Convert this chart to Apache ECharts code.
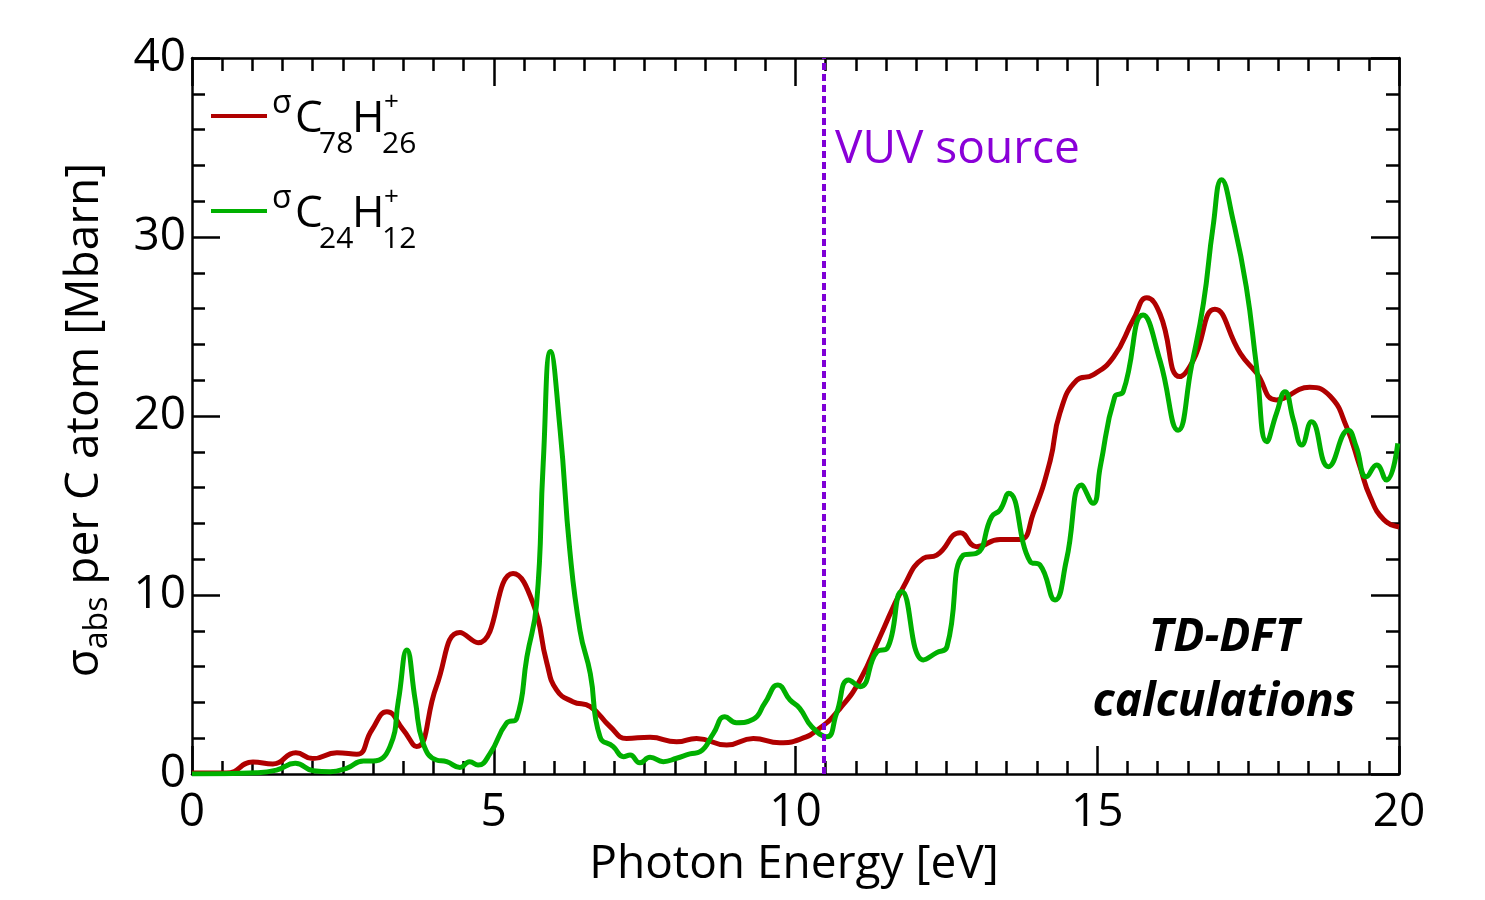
<!DOCTYPE html>
<html><head><meta charset="utf-8">
<script src="https://cdn.jsdelivr.net/npm/echarts@6/dist/echarts.min.js"></script>
<style>html,body{margin:0;padding:0;background:#fff}#c{width:1485px;height:900px}</style>
</head><body><div id="c"></div>
<script>
// C78H26+ absorption cross-section [Photon energy (eV), Mbarn]
const redData = [[0,0.05],[0.57,0.05],[1.01,0.67],[1.34,0.56],[1.72,1.19],[2.0,0.86],[2.4,1.19],[2.73,1.1],[2.98,2.46],[3.23,3.48],[3.5,2.46],[3.72,1.53],[4.05,4.9],[4.44,7.9],[4.74,7.33],[5.32,11.2],[5.65,9.55],[5.88,6.2],[6.04,4.7],[6.31,4.04],[6.6,3.76],[6.93,2.64],[7.2,1.99],[7.59,2.05],[8.03,1.8],[8.36,1.99],[8.86,1.62],[9.3,1.99],[9.74,1.75],[10.07,1.94],[10.4,2.55],[10.74,3.67],[11.07,5.25],[11.4,7.67],[11.79,10.46],[12.12,12.05],[12.34,12.23],[12.73,13.48],[13.0,12.7],[13.39,13.1],[13.72,13.1],[13.94,14.56],[14.22,17.5],[14.38,20.15],[14.66,22.0],[14.93,22.3],[15.27,23.3],[15.6,25.4],[15.82,26.6],[16.04,25.7],[16.37,22.2],[16.59,23.1],[16.95,25.96],[17.37,23.5],[17.64,22.4],[17.97,20.9],[18.52,21.6],[18.86,21.1],[19.13,19.4],[19.35,17.2],[19.52,15.5],[19.75,14.2],[20,13.8]];
// C24H12+ absorption cross-section
const greenData = [[0,0],[1.07,0.07],[1.4,0.22],[1.71,0.6],[2.01,0.18],[2.29,0.13],[2.56,0.32],[2.84,0.73],[3.0,0.73],[3.28,1.53],[3.42,4.1],[3.56,6.93],[3.7,4.1],[3.83,1.71],[4.05,0.78],[4.22,0.69],[4.44,0.37],[4.6,0.69],[4.74,0.5],[4.94,1.15],[5.21,2.83],[5.38,3.1],[5.55,6.55],[5.71,9.5],[5.82,17.4],[5.94,23.6],[6.1,19.2],[6.26,12.5],[6.43,8.0],[6.6,5.6],[6.76,2.08],[6.98,1.53],[7.15,0.97],[7.26,1.06],[7.42,0.63],[7.59,0.93],[7.81,0.69],[8.03,0.88],[8.25,1.12],[8.42,1.25],[8.64,2.27],[8.83,3.2],[9.02,2.87],[9.3,3.06],[9.49,3.95],[9.71,4.97],[9.91,4.13],[10.07,3.67],[10.27,2.64],[10.52,2.08],[10.68,3.39],[10.88,5.25],[11.07,4.88],[11.35,6.83],[11.52,7.02],[11.76,10.2],[12.12,6.37],[12.34,6.78],[12.51,7.11],[12.78,12.23],[13.0,12.33],[13.25,14.37],[13.39,14.75],[13.53,15.68],[13.89,11.86],[14.05,11.68],[14.3,9.72],[14.49,11.96],[14.74,16.15],[14.93,15.12],[15.05,17.17],[15.29,21.08],[15.43,21.36],[15.76,25.64],[16.04,23.1],[16.34,19.2],[16.56,22.75],[16.76,26.3],[16.92,30.6],[17.06,33.2],[17.25,30.95],[17.47,27.2],[17.64,22.75],[17.81,18.56],[17.97,20.15],[18.11,21.36],[18.25,19.78],[18.39,18.38],[18.55,19.68],[18.83,17.17],[19.16,19.2],[19.29,18.3],[19.46,16.6],[19.63,17.26],[19.79,16.42],[19.98,18.47]];
const vuvEnergy = 10.46;
const xTicks = [0, 5, 10, 15, 20];
const yTicks = [0, 10, 20, 30, 40];

const FONT = '"Open Sans", Lato, sans-serif';
const FS = 46;
const RED = '#B00000', GREEN = '#00B000', PURPLE = '#7E00D6';

const chart = echarts.init(document.getElementById('c'), null, {renderer: 'canvas'});

function axisBase(show) {
  return {
    axisLine: {show: true, onZero: false, lineStyle: {color: '#000', width: 2.5}},
    axisTick: {show: true, inside: true, length: 28, lineStyle: {color: '#000', width: 2.5}},
    minorTick: {show: true, length: 13, lineStyle: {color: '#000', width: 2.5}},
    splitLine: {show: false},
    axisLabel: {show: show, color: '#000', fontSize: FS, fontFamily: FONT}
  };
}

const xb = Object.assign(axisBase(true), {type: 'value', min: xTicks[0], max: xTicks[xTicks.length-1], interval: 5, position: 'bottom'});
xb.minorTick.splitNumber = 10;
xb.axisLabel.margin = 16;
const xt = Object.assign(axisBase(false), {type: 'value', min: xTicks[0], max: xTicks[xTicks.length-1], interval: 5, position: 'top'});
xt.minorTick.splitNumber = 10;
const yl = Object.assign(axisBase(true), {type: 'value', min: yTicks[0], max: yTicks[yTicks.length-1], interval: 10, position: 'left'});
yl.minorTick.splitNumber = 5;
yl.axisLabel.margin = 6;
const yr = Object.assign(axisBase(false), {type: 'value', min: yTicks[0], max: yTicks[yTicks.length-1], interval: 10, position: 'right'});
yr.minorTick.splitNumber = 5;

function legendItem(y0, color, a, b) {
  const f = (s) => s + 'px ' + FONT;
  return [
    {type: 'line', shape: {x1: 211, y1: y0, x2: 267, y2: y0}, style: {stroke: color, lineWidth: 4}},
    {type: 'text', x: 272, y: y0 - 12, style: {text: 'σ', font: f(32), fill: '#000', align: 'left', verticalAlign: 'middle'}},
    {type: 'text', x: 295, y: y0 + 3, style: {text: 'C', font: f(44), fill: '#000', align: 'left', verticalAlign: 'middle'}},
    {type: 'text', x: 319, y: y0 + 28, style: {text: a, font: f(30), fill: '#000', align: 'left', verticalAlign: 'middle'}},
    {type: 'text', x: 352, y: y0 + 3, style: {text: 'H', font: f(44), fill: '#000', align: 'left', verticalAlign: 'middle'}},
    {type: 'text', x: 382, y: y0 + 28, style: {text: b, font: f(30), fill: '#000', align: 'left', verticalAlign: 'middle'}},
    {type: 'text', x: 384, y: y0 - 13, style: {text: '+', font: f(26), fill: '#000', align: 'left', verticalAlign: 'middle'}}
  ];
}

const option = {
  backgroundColor: '#fff',
  animation: false,
  grid: {left: 192, right: 86, top: 58, bottom: 126, containLabel: false},
  xAxis: [xb, xt],
  yAxis: [yl, yr],
  series: [
    {type: 'line', name: 'C78H26+', data: redData, xAxisIndex: 0, yAxisIndex: 0, showSymbol: false, smooth: 0.5,
     lineStyle: {color: RED, width: 5}, itemStyle: {color: RED}, z: 3},
    {type: 'line', name: 'C24H12+', data: greenData, xAxisIndex: 0, yAxisIndex: 0, showSymbol: false, smooth: 0.5,
     lineStyle: {color: GREEN, width: 5}, itemStyle: {color: GREEN}, z: 4,
     markLine: {silent: true, symbol: 'none', label: {show: false}, animation: false,
       lineStyle: {color: PURPLE, width: 4, type: [7, 4]}, data: [{xAxis: vuvEnergy}], z: 5}}
  ],
  graphic: [
    {type: 'text', x: 835, y: 150, style: {text: 'VUV source', font: FS + 'px ' + FONT, fill: '#8A00D8', align: 'left', verticalAlign: 'middle'}},
    {type: 'text', x: 1224, y: 638, style: {text: 'TD-DFT', font: 'italic bold ' + FS + 'px ' + FONT, fill: '#000', align: 'center', verticalAlign: 'middle'}},
    {type: 'text', x: 1224, y: 703, style: {text: 'calculations', font: 'italic bold ' + FS + 'px ' + FONT, fill: '#000', align: 'center', verticalAlign: 'middle'}},
    {type: 'text', x: 794, y: 865, style: {text: 'Photon Energy [eV]', font: FS + 'px ' + FONT, fill: '#000', align: 'center', verticalAlign: 'middle'}},
    {type: 'text', x: 88, y: 420, rotation: Math.PI / 2,
     style: {text: '{s|σ}{b|abs}{m| per C atom [Mbarn]}', align: 'center', verticalAlign: 'middle',
       rich: {
         s: {fontSize: FS, fontFamily: FONT, fill: '#000', color: '#000', lineHeight: 52, verticalAlign: 'top'},
         m: {fontSize: FS, fontFamily: FONT, fill: '#000', color: '#000', lineHeight: 52, verticalAlign: 'top'},
         b: {fontSize: 32, fontFamily: FONT, fill: '#000', color: '#000', lineHeight: 30, verticalAlign: 'bottom'}
       }}}
  ].concat(legendItem(116, RED, '78', '26')).concat(legendItem(211, GREEN, '24', '12'))
};
chart.setOption(option);
</script></body></html>
